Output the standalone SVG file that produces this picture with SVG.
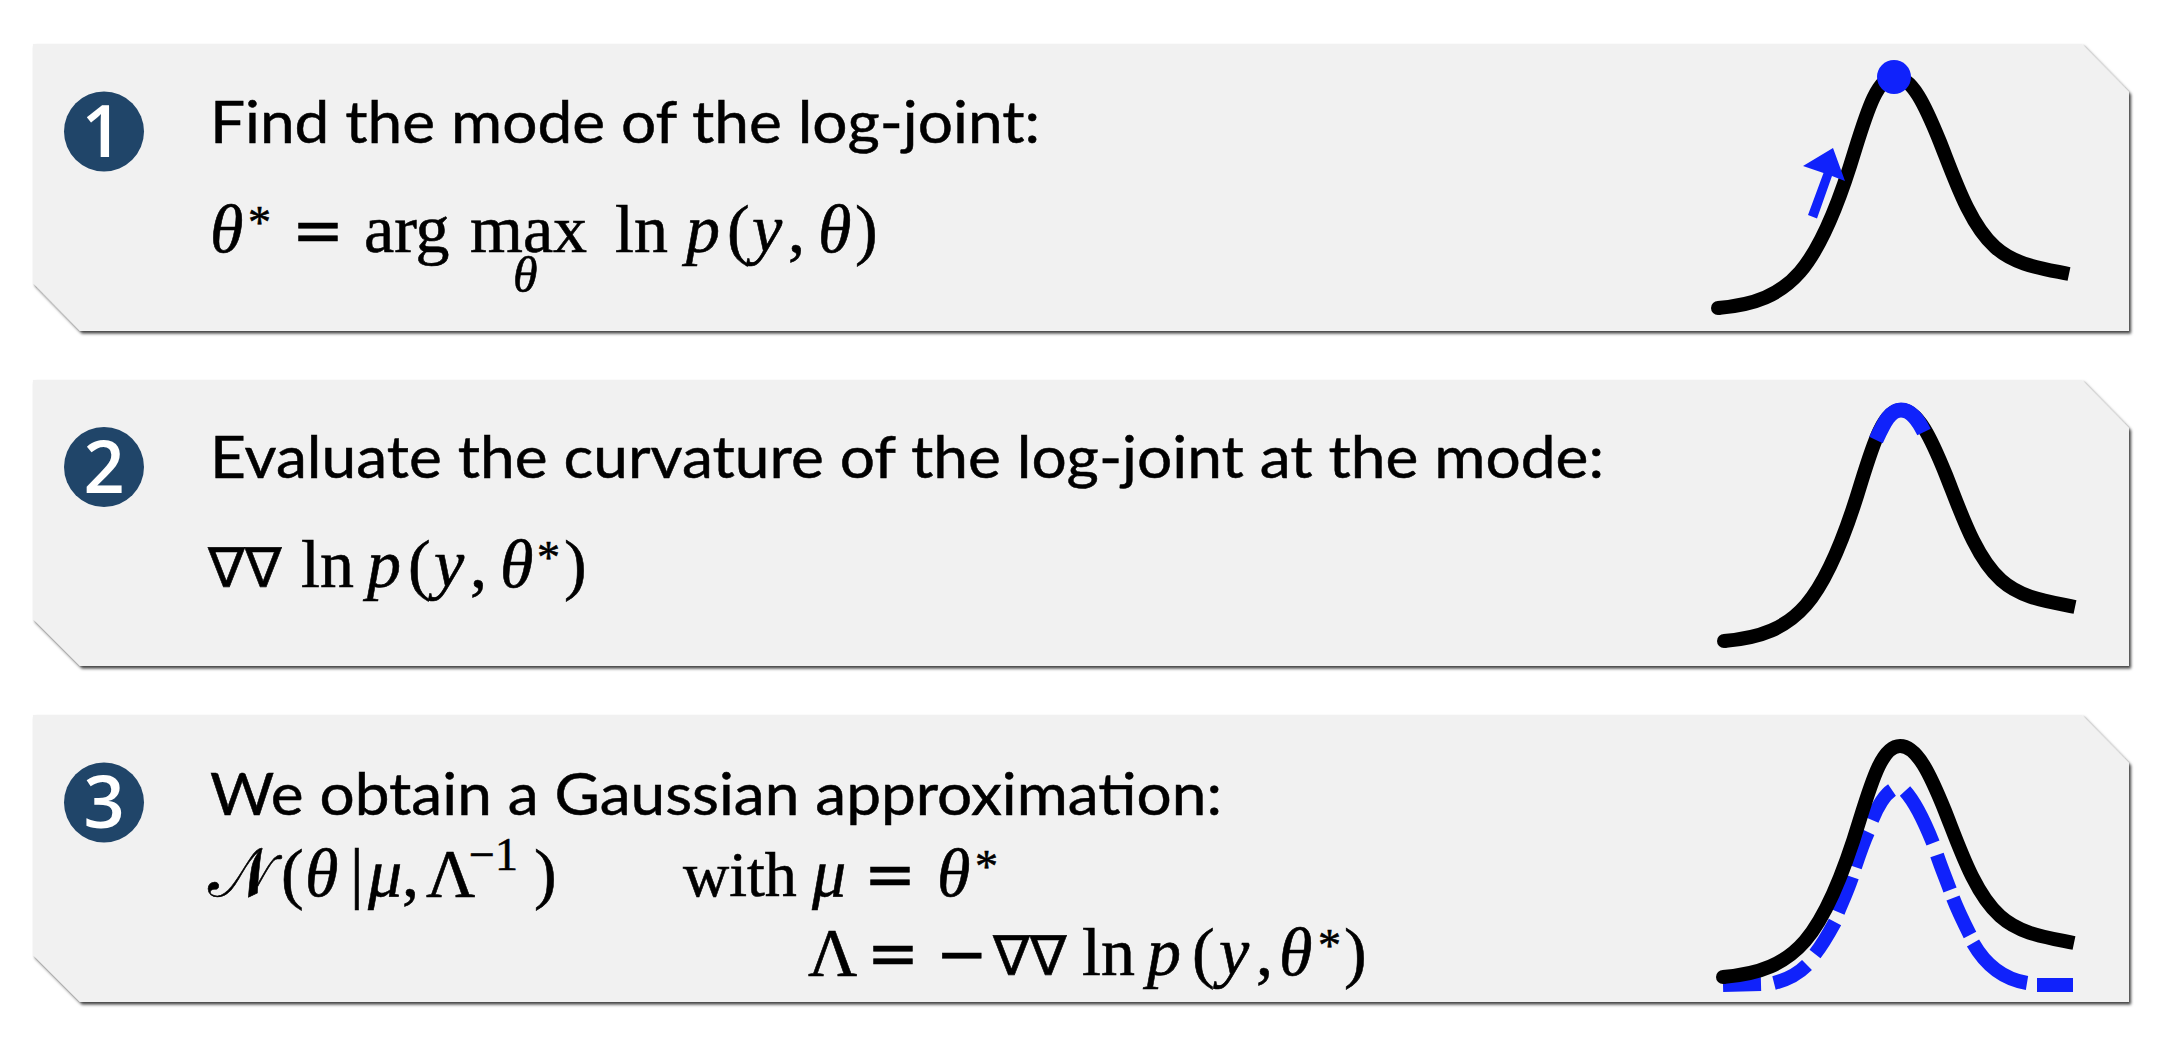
<svg xmlns="http://www.w3.org/2000/svg" width="2170" height="1042" viewBox="0 0 2170 1042">
<style>
.panel{fill:#f1f1f1;filter:url(#sh)}
.badge{fill:#204569}
.num{font-family:"Open Sans",sans-serif;font-weight:600;font-size:72px;fill:#fff;text-anchor:middle}
.t{font-family:"Lato","Noto Sans",sans-serif;font-size:59px;fill:#000;stroke:#000;stroke-width:.5}
.m{font-family:"Liberation Serif","DejaVu Serif",serif;font-size:68px;fill:#000;stroke:#000;stroke-width:.6}
.i{font-style:italic}
.s{font-size:46px}
.op{font-family:"DejaVu Sans",sans-serif;font-size:62px}
.nabla{font-family:"DejaVu Sans",sans-serif;font-size:55px}
.curve{fill:none;stroke:#000;stroke-width:14;stroke-linecap:butt}
.blue{fill:none;stroke:#1022fb;stroke-width:14}
</style>
<defs>
<filter id="sh" x="-2%" y="-5%" width="104%" height="110%"><feDropShadow dx="2" dy="2.500" stdDeviation="1.600" flood-color="#000" flood-opacity="0.75"/></filter>
<path id="gauss" d="M1718 308C1755 305 1780 295 1800 272C1825 243 1843 190 1855 150C1868 108 1878 77 1895 77C1912 77 1925 105 1940 142C1955 180 1970 225 1995 247C2015 265 2040 268 2069 274"/>
<circle id="start" cx="1718" cy="308" r="7"/>
</defs>
<rect width="2170" height="1042" fill="#fff"/>

<g id="step1">
<path class="panel" d="M33 44H2082L2129 92V331H80L33 283Z"/>
<circle class="badge" cx="104" cy="131.500" r="40"/>
<text class="num" x="102" y="157">1</text>
<text class="t" x="210" y="143" textLength="830" lengthAdjust="spacingAndGlyphs">Find the mode of the log-joint:</text>
<text class="m" y="252"><tspan class="i" x="210">θ</tspan><tspan class="s" x="248" y="238">*</tspan><tspan class="op" x="292" y="252">=</tspan><tspan x="364">arg </tspan><tspan x="470">max </tspan><tspan x="615">ln </tspan><tspan class="i" x="686">p</tspan><tspan x="727">(</tspan><tspan class="i" x="752">y</tspan><tspan x="788">,</tspan><tspan class="i" x="818">θ</tspan><tspan x="855">)</tspan></text>
<text class="m i" x="513" y="292" style="font-size:50px">θ</text>
<use href="#gauss" class="curve"/><use href="#start"/>
<circle cx="1894" cy="77" r="17" fill="#1022fb"/>
<path d="M1833 148L1803 166L1823.500 173L1808 215L1817 218.500L1832 176L1845 181Z" fill="#1022fb"/>
</g>

<g id="step2">
<path class="panel" d="M33 380H2082L2129 428V666H80L33 619Z"/>
<circle class="badge" cx="104" cy="467" r="40"/>
<text class="num" x="104" y="493">2</text>
<text class="t" x="210" y="478" textLength="1394" lengthAdjust="spacingAndGlyphs">Evaluate the curvature of the log-joint at the mode:</text>
<text class="m" y="587"><tspan class="nabla" x="208">∇∇ </tspan><tspan x="301">ln </tspan><tspan class="i" x="367">p</tspan><tspan x="408">(</tspan><tspan class="i" x="434">y</tspan><tspan x="470">,</tspan><tspan class="i" x="500">θ</tspan><tspan class="s" x="537" y="573">*</tspan><tspan x="564" y="587">)</tspan></text>
<g transform="translate(6 333)"><use href="#gauss" class="curve"/><use href="#start"/></g>
<path class="blue" style="stroke-width:15" d="M1876 440C1884 423 1890 410 1901 410C1911 410 1918 420 1924 432"/>
</g>

<g id="step3">
<path class="panel" d="M33 715H2082L2129 763V1002H80L33 955Z"/>
<circle class="badge" cx="104" cy="802.500" r="40"/>
<text class="num" x="104" y="828">3</text>
<text class="t" x="210" y="815" textLength="1012" lengthAdjust="spacingAndGlyphs">We obtain a Gaussian approximation:</text>
<text class="m" y="896"><tspan x="208">𝒩</tspan><tspan x="281">(</tspan><tspan class="i" x="305">θ</tspan><tspan x="350">|</tspan><tspan class="i" x="368">μ</tspan><tspan x="402">,</tspan><tspan x="426">Λ</tspan><tspan class="s" x="469" y="870">−1</tspan><tspan x="534" y="896">)</tspan></text>
<text class="m" y="896"><tspan x="683" style="font-size:64px">with </tspan><tspan class="i" x="812">μ </tspan><tspan class="op" x="864">= </tspan><tspan class="i" x="937">θ</tspan><tspan class="s" x="975" y="882">*</tspan></text>
<text class="m" y="975"><tspan x="808">Λ </tspan><tspan class="op" x="867">= </tspan><tspan class="op" x="936">−</tspan><tspan class="nabla" x="993">∇∇ </tspan><tspan x="1082">ln </tspan><tspan class="i" x="1147">p</tspan><tspan x="1192">(</tspan><tspan class="i" x="1219">y</tspan><tspan x="1256">,</tspan><tspan class="i" x="1279">θ</tspan><tspan class="s" x="1318" y="961">*</tspan><tspan x="1344" y="975">)</tspan></text>
<path class="blue" d="M1723 985L1761 984M1774 983C1786 980 1797 975 1807 965M1815 954C1823 944 1829 933 1835 922M1838 912C1843 900 1848 889 1852 877M1855 867C1859 855 1863 843 1868 832M1872 820C1877 808 1883 796 1892 790M1905 791C1915 802 1925 823 1933 843M1937 855C1941 867 1946 879 1950 890M1953 898C1958 911 1964 923 1970 935M1973 943C1985 964 2003 979 2027 983M2037 985L2073 985"/>
<g transform="translate(5 669)"><use href="#gauss" class="curve"/><use href="#start"/></g>
</g>
<g id="connectors"/>
</svg>
